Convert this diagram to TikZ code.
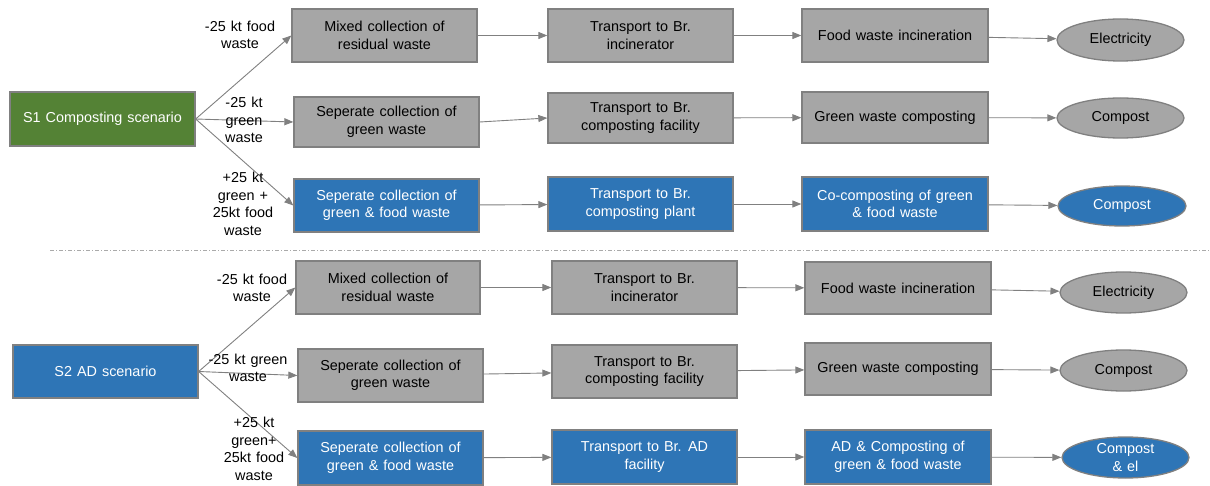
\documentclass[tikz,border=0pt]{standalone}
\usepackage{fontspec}
\setmainfont{Liberation Sans}[WordSpace={1.25,1,1}]
\usetikzlibrary{arrows.meta,shapes.geometric}
\definecolor{boxgrey}{RGB}{166,166,166}
\definecolor{boxline}{RGB}{128,128,128}
\definecolor{boxblue}{RGB}{46,117,182}
\definecolor{boxgreen}{RGB}{84,130,53}
\definecolor{arrgrey}{RGB}{128,128,128}
\definecolor{sepgrey}{RGB}{170,170,170}
\tikzset{
  base/.style={draw=boxline, line width=1.3pt, align=center, inner sep=2pt,
    font=\fontsize{14.4}{17.5}\selectfont},
  greybox/.style={base, rectangle, fill=boxgrey, text=black},
  bluebox/.style={base, rectangle, fill=boxblue, text=white},
  greenbox/.style={base, rectangle, fill=boxgreen, text=white},
  greyell/.style={base, ellipse, fill=boxgrey, text=black},
  blueell/.style={base, ellipse, fill=boxblue, text=white},
  conn/.style={draw=arrgrey, line width=0.9pt, -{Triangle[length=9pt,width=7pt]}},
  lab/.style={align=center, font=\fontsize{14.4}{17.5}\selectfont, inner sep=0pt},
}
\begin{document}
\begin{tikzpicture}[x=1pt,y=-1pt]
\useasboundingbox (0,0) rectangle (1210,486);
% separator
\draw[sepgrey, line width=0.8pt, dash pattern=on 4pt off 2pt on 1pt off 2pt] (50,250) -- (1210,250);

% ---------- S1 ----------
\node[greenbox, minimum width=185, minimum height=54] (s1) at (102.5,119) {S1 Composting scenario};

\node[greybox, minimum width=185, minimum height=53] (a1) at (384.5,35.5) {Mixed collection of\\residual waste};
\node[greybox, minimum width=185, minimum height=53] (a2) at (640.5,35.5) {Transport to Br.\\incinerator};
\node[greybox, minimum width=186, minimum height=53] (a3) at (895,35.5) {Food waste incineration};
\node[greyell, minimum width=127, minimum height=42] (a4) at (1120.5,40) {Electricity};

\node[greybox, minimum width=185, minimum height=50] (b1) at (386.5,122) {Seperate collection of\\green waste};
\node[greybox, minimum width=185, minimum height=50] (b2) at (640.5,118) {Transport to Br.\\composting facility};
\node[greybox, minimum width=186, minimum height=51] (b3) at (895,117.5) {Green waste composting};
\node[greyell, minimum width=127, minimum height=40] (b4) at (1120.5,118) {Compost};

\node[bluebox, minimum width=185, minimum height=53] (c1) at (386.5,205.5) {Seperate collection of\\green \& food waste};
\node[bluebox, minimum width=185, minimum height=54] (c2) at (640.5,204) {Transport to Br.\\composting plant};
\node[bluebox, minimum width=186, minimum height=54] (c3) at (895,204) {Co-composting of green\\\& food waste};
\node[blueell, minimum width=128, minimum height=40] (c4) at (1122,206) {Compost};

\draw[conn] (s1.east) -- (a1.west);
\draw[conn] (s1.east) -- (b1.west);
\draw[conn] (s1.east) -- (c1.west);
\draw[conn] (a1) -- (a2);
\draw[conn] (a2) -- (a3);
\draw[conn] (a3) -- (a4);
\draw[conn] (b1.east) -- (b2.west);
\draw[conn] (b2) -- (b3);
\draw[conn] (b3) -- (b4);
\draw[conn] (c1) -- (c2);
\draw[conn] (c2) -- (c3);
\draw[conn] (c3) -- (c4);

\node[lab] (la) at (240,35) {-25 kt food\\waste};
\node[lab] (lb) at (244,120) {-25 kt\\green\\waste};
\node[lab] (lc) at (243,204) {+25 kt\\green +\\25kt food\\waste};

% ---------- S2 ----------
\node[bluebox, minimum width=185, minimum height=53] (s2) at (105.5,371.5) {S2 AD scenario};

\node[greybox, minimum width=184, minimum height=53] (d1) at (388,287.5) {Mixed collection of\\residual waste};
\node[greybox, minimum width=185, minimum height=53] (d2) at (644.5,287.5) {Transport to Br.\\incinerator};
\node[greybox, minimum width=186, minimum height=52] (d3) at (898,288) {Food waste incineration};
\node[greyell, minimum width=127, minimum height=41] (d4) at (1123.5,292.5) {Electricity};

\node[greybox, minimum width=185, minimum height=53] (e1) at (390.5,375.5) {Seperate collection of\\green waste};
\node[greybox, minimum width=185, minimum height=53] (e2) at (644.5,371.5) {Transport to Br.\\composting facility};
\node[greybox, minimum width=186, minimum height=52] (e3) at (898,369) {Green waste composting};
\node[greyell, minimum width=127, minimum height=41] (e4) at (1123.5,370.5) {Compost};

\node[bluebox, minimum width=185, minimum height=54] (f1) at (390.5,458) {Seperate collection of\\green \& food waste};
\node[bluebox, minimum width=185, minimum height=54] (f2) at (644.5,457) {Transport to Br. AD\\facility};
\node[bluebox, minimum width=186, minimum height=54] (f3) at (898,457) {AD \& Composting of\\green \& food waste};
\node[blueell, minimum width=127, minimum height=41, inner sep=0pt] (f4) at (1125.5,457.5) {Compost\\\& el};

\draw[conn] (s2.east) -- (d1.west);
\draw[conn] (s2.east) -- (e1.west);
\draw[conn] (s2.east) -- (f1.west);
\draw[conn] (d1) -- (d2);
\draw[conn] (d2) -- (d3);
\draw[conn] (d3) -- (d4);
\draw[conn] (e1) -- (e2);
\draw[conn] (e2) -- (e3);
\draw[conn] (e3) -- (e4);
\draw[conn] (f1) -- (f2);
\draw[conn] (f2) -- (f3);
\draw[conn] (f3) -- (f4);

\node[lab] (ld) at (252,288) {-25 kt food\\waste};
\node[lab] (le) at (248,368) {-25 kt green\\waste};
\node[lab] (lf) at (254,449) {+25 kt\\green+\\25kt food\\waste};
\end{tikzpicture}
\end{document}
